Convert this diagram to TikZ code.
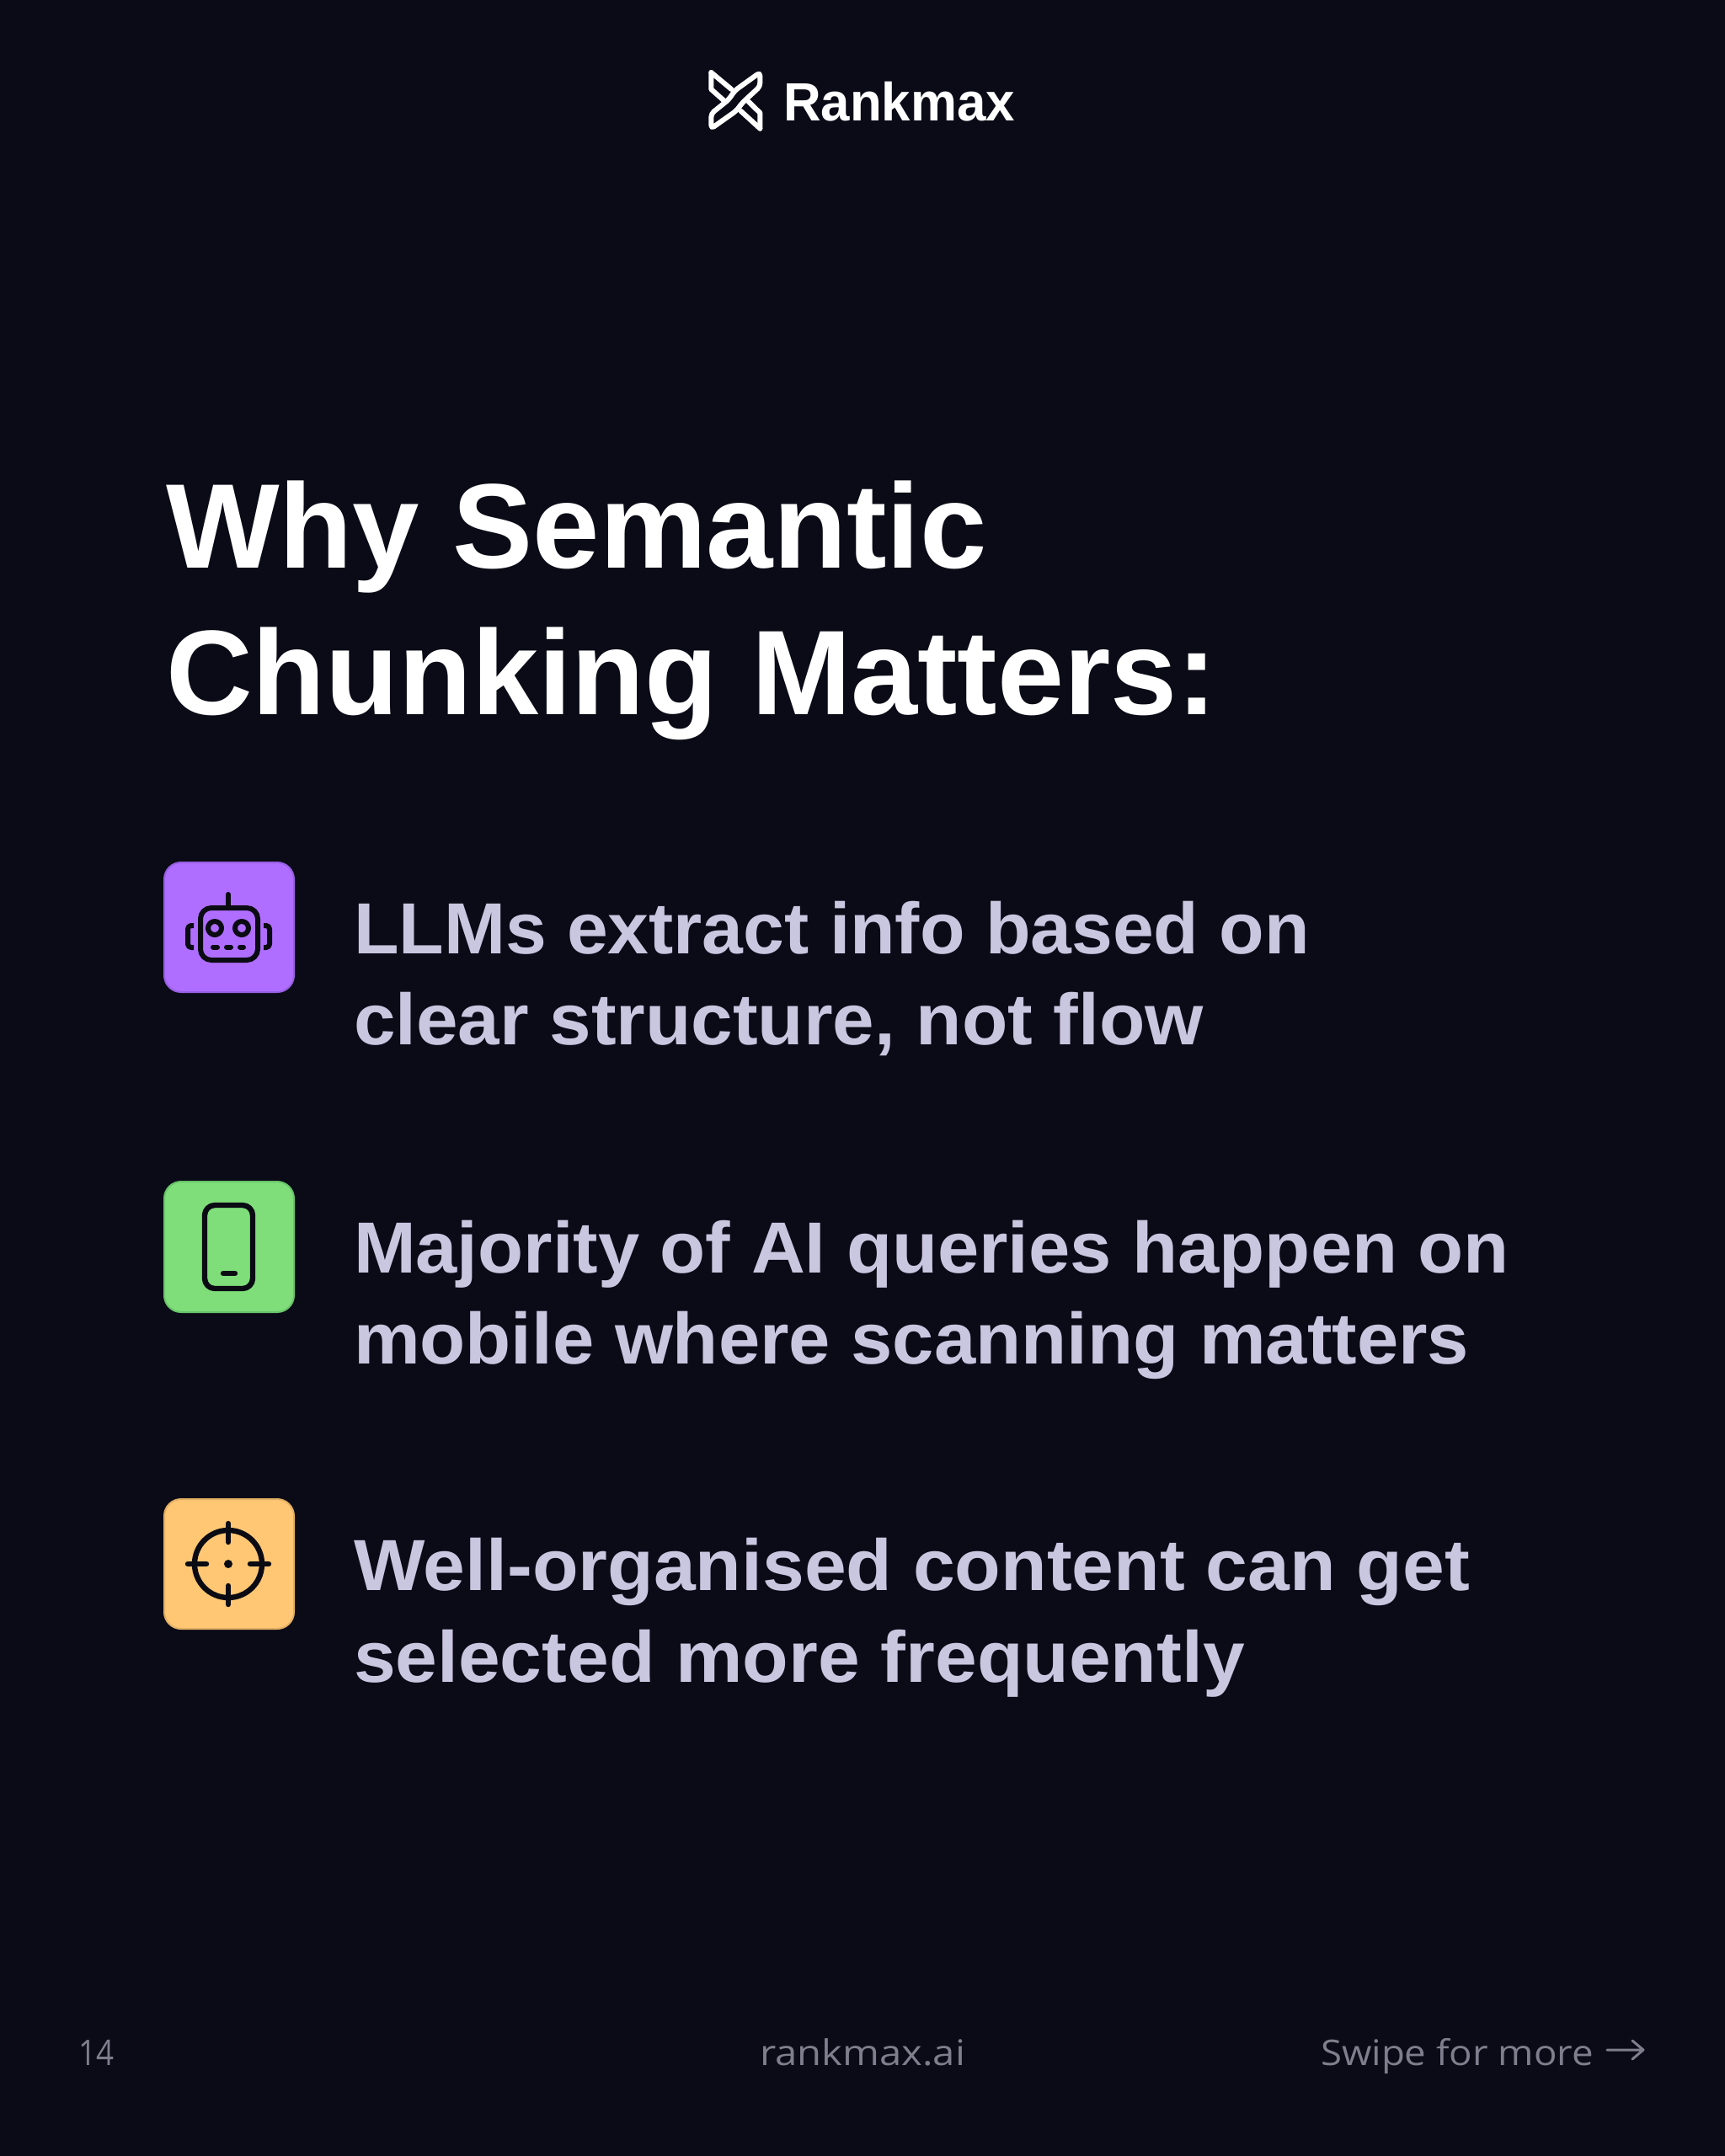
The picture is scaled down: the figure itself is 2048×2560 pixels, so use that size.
\documentclass[tikz,border=0pt]{standalone}
\usepackage{fontspec}
\usepackage{graphicx}
\setmainfont{Liberation Sans}
\newfontfamily\footfont{Open Sans}
\definecolor{bgc}{HTML}{0B0B17}
\definecolor{itemc}{HTML}{C9C6E0}
\definecolor{footc}{HTML}{7F7E8C}
\definecolor{ink}{HTML}{0B0B14}
\newcommand{\fitw}[2]{\resizebox{#1}{\height}{#2}}
\tikzset{
  txt/.style={anchor=base west,inner sep=0pt,outer sep=0pt},
  title/.style={txt,text=white,font=\fontsize{71.5}{72}\selectfont\bfseries},
  item/.style={txt,text=itemc,font=\fontsize{43}{43}\selectfont\bfseries},
  foot/.style={txt,text=footc,font=\footfont\fontsize{21}{21}\selectfont},
  ico/.style={draw=ink,line width=3pt,line cap=round,line join=round},
  logo/.style={draw=white,line width=3pt,line join=round,line cap=round},
}
\begin{document}
\begin{tikzpicture}[x=0.5pt,y=-0.5pt]
\useasboundingbox (0,0) rectangle (2048,2560);
\fill[bgc] (0,0) rectangle (2048,2560);
% logo
\begin{scope}[shift={(800,50)},x=0.16667pt,y=-0.16667pt]
\draw[logo,rounded corners=2pt] (307,108) -- (307,158) -- (245,215) -- (222,245) -- (133,308) -- (133,255) -- (195,205) -- (218,172) -- cycle;
\draw[logo] (133,108) -- (133,168) -- (178,208);
\draw[logo] (133,108) -- (205,168);
\draw[logo] (307,308) -- (307,252) -- (266,212);
\draw[logo] (307,308) -- (238,245);
\end{scope}
\node[txt,text=white,font=\fontsize{32}{32}\selectfont\bfseries] (brand) at (930,143) {\fitw{275\dimexpr0.5pt}{Rankmax}};
% title
\node[title] (t1) at (197,674) {\fitw{975\dimexpr0.5pt}{Why Semantic}};
\node[title] (t2) at (197,848) {\fitw{1248\dimexpr0.5pt}{Chunking Matters:}};
% icon boxes
\draw[fill={rgb,255:red,175;green,110;blue,255},draw={rgb,255:red,150;green,95;blue,225},line width=1pt,rounded corners=10pt] (195,1024) rectangle (349,1178);
\draw[fill={rgb,255:red,127;green,222;blue,122},draw={rgb,255:red,105;green,195;blue,105},line width=1pt,rounded corners=10pt] (195,1403) rectangle (349,1558);
\draw[fill={rgb,255:red,255;green,199;blue,115},draw={rgb,255:red,225;green,175;blue,100},line width=1pt,rounded corners=10pt] (195,1780) rectangle (349,1934);
% robot
\draw[ico,rounded corners=6.5pt] (238,1078) rectangle (306,1140);
\draw[ico] (271,1062) -- (271,1078);
\draw[ico] (255,1102) circle[radius=8];
\draw[ico] (287,1102) circle[radius=8];
\draw[ico] (253,1124.5) -- (258,1124.5) (269,1124.5) -- (274,1124.5) (285,1124.5) -- (289,1124.5);
\draw[ico,line cap=butt,rounded corners=2pt] (230,1099) -- (223,1099) -- (223,1125) -- (230,1125);
\draw[ico,line cap=butt,rounded corners=2pt] (313,1099) -- (320,1099) -- (320,1125) -- (313,1125);
% phone
\draw[ico,line width=3.2pt,rounded corners=6pt] (243,1431) rectangle (300,1530);
\draw[ico,line width=3.2pt] (265,1512) -- (279,1512);
% target
\draw[ico,line width=3.2pt] (271,1857) circle[radius=40];
\draw[ico,line width=3.2pt] (271,1809) -- (271,1831) (271,1883) -- (271,1905) (223,1857) -- (245,1857) (297,1857) -- (319,1857);
\fill[ink] (271,1857) circle[radius=5];
% items
\node[item] (a1) at (420,1132) {\fitw{1135\dimexpr0.5pt}{LLMs extract info based on}};
\node[item] (a2) at (420,1240) {\fitw{1009\dimexpr0.5pt}{clear structure, not flow}};
\node[item] (b1) at (420,1511) {\fitw{1372\dimexpr0.5pt}{Majority of AI queries happen on}};
\node[item] (b2) at (420,1619) {\fitw{1324\dimexpr0.5pt}{mobile where scanning matters}};
\node[item] (c1) at (420,1888) {\fitw{1325\dimexpr0.5pt}{Well-organised content can get}};
\node[item] (c2) at (420,1997) {\fitw{1058\dimexpr0.5pt}{selected more frequently}};
% footer
\node[foot] (pg) at (93,2452) {\fitw{42\dimexpr0.5pt}{14}};
\node[foot] (site) at (902,2452) {\fitw{244\dimexpr0.5pt}{rankmax.ai}};
\node[foot] (swipe) at (1568,2452) {\fitw{324\dimexpr0.5pt}{Swipe for more}};
\coordinate (ar1) at (1908,2434);
\coordinate (ar2) at (1951,2434);
\draw[draw=footc,line width=1.5pt,line cap=round,line join=round] (ar1) -- (ar2) (1938,2423) -- (ar2) -- (1938,2445);
\end{tikzpicture}
\end{document}
